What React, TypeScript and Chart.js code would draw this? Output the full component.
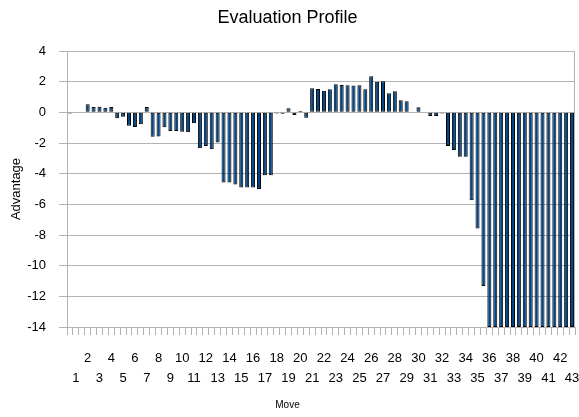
import React, { useEffect, useRef } from "react";
import { Chart, registerables } from "chart.js";

Chart.register(...registerables);

const chartTitle = "Evaluation Profile";
const xAxisTitle = "Move";
const yAxisTitle = "Advantage";

// move numbers shown under the axis (one per two half-moves)
const moveLabels = [
  "1", "2", "3", "4", "5", "6", "7", "8", "9", "10",
  "11", "12", "13", "14", "15", "16", "17", "18", "19", "20",
  "21", "22", "23", "24", "25", "26", "27", "28", "29", "30",
  "31", "32", "33", "34", "35", "36", "37", "38", "39", "40",
  "41", "42", "43",
];

// evaluation after each half-move (86 half-moves)
const evaluation = [
  -0.08, 0, 0, 0.52, 0.35, 0.37, 0.3, 0.35, -0.39, -0.28,
  -0.88, -0.96, -0.78, 0.35, -1.6, -1.57, -0.98, -1.22, -1.22, -1.26,
  -1.3, -0.72, -2.35, -2.2, -2.4, -1.96, -4.57, -4.57, -4.7, -4.9,
  -4.9, -4.9, -5.0, -4.1, -4.1, -0.08, -0.1, 0.26, -0.17, 0.08,
  -0.35, 1.57, 1.52, 1.4, 1.5, 1.83, 1.78, 1.76, 1.75, 1.76,
  1.5, 2.35, 2.0, 2.02, 1.24, 1.37, 0.78, 0.72, 0, 0.33,
  0, -0.24, -0.24, -0.08, -2.2, -2.46, -2.89, -2.89, -5.74, -7.57,
  -11.33, -14, -14, -14, -14, -14, -14, -14, -14, -14,
  -14, -14, -14, -14, -14, -14,
];

const yMin = -14;
const yMax = 4;
const yStep = 2;

// category labels: a move number on every second half-move, staggered in two rows
const halfMoveLabels: (string | string[])[] = evaluation.map((_, i) => {
  if (i % 2 === 0) return "";
  const k = (i + 1) / 2;
  const txt = moveLabels[k - 1] ?? "";
  return k % 2 === 0 ? txt : ["", txt];
});

const GRID = "#b3b3b3";
const FONT = "'Liberation Sans', Arial, sans-serif";

const frame = {
  id: "frameRight",
  beforeDatasetsDraw(chart: any) {
    const { ctx, chartArea } = chart;
    ctx.save();
    ctx.strokeStyle = GRID;
    ctx.lineWidth = 1;
    ctx.beginPath();
    ctx.moveTo(chartArea.right - 0.5, chartArea.top);
    ctx.lineTo(chartArea.right - 0.5, chartArea.bottom);
    ctx.stroke();
    ctx.restore();
  },
};

export default function App() {
  const ref = useRef<HTMLCanvasElement | null>(null);

  useEffect(() => {
    document.body.style.margin = "0";
    if (!ref.current) return;
    Chart.defaults.font.family = FONT;
    Chart.defaults.color = "#000000";
    const chart = new Chart(ref.current, {
      type: "bar",
      data: {
        labels: halfMoveLabels as any,
        datasets: [
          {
            label: yAxisTitle,
            data: evaluation,
            backgroundColor: "#004586",
            borderColor: "#000000",
            borderWidth: 1,
            borderSkipped: false,
            barPercentage: 0.68,
            categoryPercentage: 1,
          },
        ],
      },
      options: {
        animation: false,
        responsive: false,
        layout: { padding: { left: 0, right: 4, top: 0, bottom: 0 } },
        plugins: {
          legend: { display: false },
          tooltip: { enabled: false },
          title: {
            display: true,
            text: chartTitle,
            color: "#000000",
            font: { size: 18, weight: "normal", family: FONT, lineHeight: 1.2 },
            padding: { top: 7, bottom: 22.4 },
          },
          subtitle: {
            display: true,
            text: xAxisTitle,
            position: "bottom",
            color: "#000000",
            font: { size: 10, weight: "normal", family: FONT, lineHeight: 1.2 },
            padding: { top: 0, bottom: 6 },
          },
        },
        scales: {
          x: {
            grid: {
              display: true,
              drawOnChartArea: false,
              drawTicks: true,
              tickLength: 8,
              color: GRID,
              offset: true,
            },
            border: { display: true, color: GRID },
            ticks: {
              autoSkip: false,
              maxRotation: 0,
              minRotation: 0,
              padding: 13,
              color: "#000000",
              font: { size: 13, family: FONT, lineHeight: 20 / 13 },
            },
            afterFit(scale: any) {
              scale.height = 72;
              scale.paddingLeft = 0;
              scale.paddingRight = 0;
            },
          },
          y: {
            min: yMin,
            max: yMax,
            ticks: {
              stepSize: yStep,
              padding: 13,
              color: "#000000",
              font: { size: 13, family: FONT },
            },
            grid: {
              color: GRID,
              drawTicks: true,
              tickLength: 8,
            },
            border: { display: true, color: GRID },
            title: {
              display: true,
              text: yAxisTitle,
              color: "#000000",
              font: { size: 13, family: FONT, lineHeight: 1.2 },
              padding: { top: 9, bottom: 0 },
            },
            afterFit(scale: any) {
              scale.width = 67;
              scale.paddingTop = 0;
              scale.paddingBottom = 0;
            },
          },
        },
      },
      plugins: [frame],
    });
    return () => chart.destroy();
  }, []);

  return (
    <div style={{ width: 579, height: 417, background: "#ffffff" }}>
      <canvas ref={ref} width={579} height={417} style={{ display: "block" }} />
    </div>
  );
}
